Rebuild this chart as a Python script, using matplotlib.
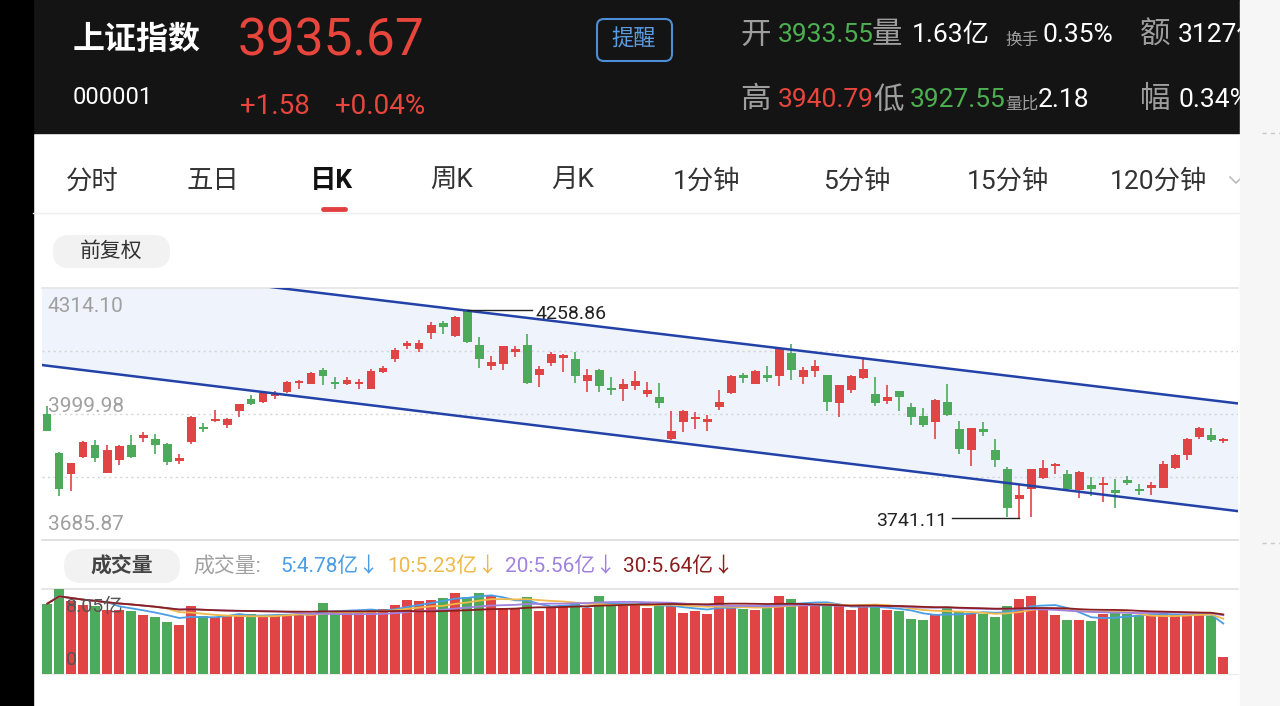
import matplotlib
matplotlib.use('Agg')
import matplotlib.pyplot as plt
from matplotlib.patches import Rectangle, FancyBboxPatch
import numpy as np
import pandas as pd

plt.rcParams['font.family'] = ['Roboto', 'Noto Sans CJK SC', 'DejaVu Sans']
plt.rcParams['axes.unicode_minus'] = False

# 日K 数据 (上证指数, 99 根)
opens = [4000.8, 3902.8, 3851.2, 3892.8, 3921.9, 3852.9, 3886.1, 3921.9, 3940.2, 3938.5,
         3924.4, 3882.0, 3930.2, 3968.4, 3982.5, 3971.7, 4007.5, 4038.2, 4029.9, 4044.9,
         4054.8, 4077.3, 4075.6, 4108.8, 4079.8, 4075.6, 4074.0, 4063.1, 4104.7, 4136.3,
         4169.5, 4162.9, 4202.7, 4227.7, 4193.6, 4256.0, 4172.8, 4119.7, 4123.8, 4154.5,
         4172.8, 4096.4, 4128.0, 4140.4, 4137.9, 4081.4, 4108.8, 4064.8, 4063.1, 4069.8,
         4050.7, 4042.4, 3938.5, 3980.0, 3986.7, 3980.0, 4017.4, 4053.2, 4096.4, 4075.6,
         4096.4, 4094.7, 4152.9, 4092.2, 4106.3, 4098.0, 4028.2, 4059.0, 4089.7, 4050.7,
         4032.4, 4056.5, 4017.4, 3995.0, 3980.0, 4029.9, 3963.4, 3911.1, 3961.8, 3909.4,
         3863.7, 3788.9, 3813.8, 3840.4, 3869.5, 3851.2, 3809.7, 3822.2, 3822.2, 3809.7,
         3834.6, 3813.8, 3815.5, 3816.3, 3865.3, 3896.9, 3942.6, 3948.5, 3933.55]
highs = [4019.9, 3905.0, 3878.0, 3932.7, 3936.0, 3921.9, 3921.9, 3948.5, 3955.0, 3951.0,
         3927.7, 3901.0, 3994.0, 3977.6, 4009.0, 3990.0, 4025.8, 4048.2, 4054.8, 4056.5,
         4081.4, 4085.6, 4104.7, 4114.7, 4092.2, 4092.2, 4088.0, 4111.3, 4119.7, 4164.5,
         4181.1, 4183.6, 4229.3, 4231.0, 4244.3, 4258.86, 4192.0, 4144.6, 4168.7, 4168.7,
         4198.6, 4119.7, 4154.5, 4150.4, 4154.5, 4111.3, 4113.0, 4092.2, 4086.4, 4106.3,
         4079.8, 4078.1, 4006.6, 4009.1, 4005.0, 3996.7, 4059.0, 4096.4, 4103.0, 4108.8,
         4119.7, 4164.5, 4175.3, 4117.2, 4133.8, 4098.0, 4073.1, 4098.0, 4137.9, 4092.2,
         4073.1, 4056.5, 4028.2, 4015.0, 4038.2, 4073.9, 3981.7, 3965.1, 3980.0, 3938.5,
         3867.8, 3826.3, 3862.0, 3884.5, 3878.6, 3859.5, 3857.0, 3842.9, 3842.9, 3837.1,
         3845.4, 3826.3, 3830.5, 3882.8, 3901.1, 3940.2, 3967.6, 3965.1, 3940.79]
lows = [3957.0, 3795.6, 3808.0, 3891.0, 3880.3, 3852.9, 3872.0, 3891.0, 3930.0, 3901.0,
        3872.0, 3876.0, 3926.0, 3955.0, 3980.0, 3965.0, 3992.5, 4021.6, 4028.2, 4038.2,
        4053.2, 4061.5, 4074.0, 4071.5, 4061.5, 4071.5, 4063.0, 4061.5, 4102.2, 4129.6,
        4162.9, 4154.5, 4187.8, 4200.3, 4192.0, 4178.0, 4114.7, 4108.8, 4108.8, 4142.0,
        4074.0, 4067.3, 4119.7, 4104.7, 4078.1, 4054.8, 4054.8, 4046.5, 4031.6, 4059.0,
        4042.4, 4015.0, 3934.3, 3955.0, 3963.4, 3957.6, 4009.1, 4050.7, 4078.1, 4074.0,
        4079.8, 4069.8, 4085.6, 4075.6, 4092.2, 4006.6, 3992.5, 4053.2, 4088.0, 4020.0,
        4025.7, 4006.6, 3971.7, 3967.6, 3938.5, 3995.0, 3901.0, 3869.5, 3944.3, 3867.8,
        3744.0, 3741.11, 3742.0, 3838.8, 3851.2, 3812.2, 3791.4, 3795.6, 3780.6, 3765.6,
        3822.2, 3797.2, 3798.9, 3816.3, 3863.7, 3886.1, 3938.5, 3930.2, 3927.55]
closes = [3957.6, 3813.8, 3877.8, 3930.2, 3890.3, 3911.1, 3920.2, 3892.8, 3948.5, 3921.9,
          3880.3, 3891.0, 3992.5, 3963.4, 3988.3, 3986.7, 4024.1, 4025.8, 4053.2, 4050.7,
          4079.8, 4082.3, 4103.0, 4094.7, 4075.6, 4083.9, 4079.8, 4106.3, 4114.7, 4158.7,
          4177.8, 4177.8, 4222.7, 4216.9, 4241.8, 4179.5, 4136.3, 4129.6, 4168.7, 4162.9,
          4077.3, 4111.3, 4150.4, 4146.2, 4094.7, 4098.0, 4069.8, 4059.0, 4074.0, 4081.4,
          4059.0, 4028.2, 3956.8, 4006.6, 3992.5, 3986.7, 4029.9, 4094.7, 4089.7, 4106.3,
          4089.7, 4161.2, 4108.8, 4108.8, 4119.7, 4029.9, 4073.1, 4094.7, 4111.3, 4028.2,
          4042.4, 4042.4, 3992.5, 3971.7, 4035.7, 3996.7, 3913.6, 3965.1, 3955.1, 3884.5,
          3765.6, 3797.2, 3862.0, 3865.3, 3874.5, 3813.8, 3855.4, 3813.8, 3828.8, 3803.9,
          3828.8, 3807.2, 3823.8, 3876.1, 3898.6, 3938.5, 3965.1, 3934.09, 3935.67]
# 成交量 (亿)
volumes = [6.66, 8.05, 6.88, 6.57, 6.47, 6.09, 6.03, 5.94, 5.62, 5.40,
           4.89, 4.67, 6.47, 5.46, 5.40, 5.46, 5.62, 5.71, 5.52, 5.62,
           5.62, 5.71, 5.78, 6.72, 5.84, 5.94, 5.94, 6.09, 6.16, 6.57,
           6.98, 6.88, 6.98, 7.20, 7.67, 7.29, 7.67, 7.42, 6.25, 6.25,
           7.29, 5.94, 6.25, 6.57, 6.66, 6.25, 7.36, 6.57, 6.47, 6.57,
           6.25, 6.57, 6.47, 5.78, 6.00, 5.71, 7.42, 6.41, 6.16, 6.09,
           6.41, 7.42, 7.10, 6.47, 6.47, 6.47, 6.47, 6.03, 6.47, 6.41,
           6.03, 5.94, 5.25, 5.09, 5.67, 6.25, 5.94, 5.71, 5.71, 5.40,
           6.47, 7.10, 7.36, 6.09, 5.62, 5.08, 5.08, 4.99, 5.71, 5.80,
           5.65, 5.50, 5.70, 5.75, 5.60, 5.62, 5.58, 5.47, 1.63]
ma_windows = [5, 10, 20, 30]
ma_colors = ['#4a9ee6', '#efb84a', '#a081e0', '#8b1e1e']
ma_labels = ['5:4.78亿↓', '10:5.23亿↓', '20:5.56亿↓', '30:5.64亿↓']

# 通道线 (K线序号, 点位)
channel_x = [-0.5, 99.2]
channel_upper = [4385.5, 4026.4]
channel_lower = [4122.2, 3757.9]

price_top, price_bottom = 4314.10, 3685.87
price_mid = 3999.98
vol_max = 8.05
high_idx, low_idx = 35, 81

RED = '#e04444'
GREEN = '#4caa5a'
W, H = 1280, 706


def px_rect(x0, y0, x1, y1):
    return [x0 / W, 1 - y1 / H, (x1 - x0) / W, (y1 - y0) / H]


fig = plt.figure(figsize=(W / 100, H / 100), dpi=100)
fig.patch.set_facecolor('white')

# 背景 / 界面
bg = fig.add_axes([0, 0, 1, 1])
bg.set_xlim(0, W)
bg.set_ylim(H, 0)
bg.axis('off')
bg.add_patch(Rectangle((0, 0), 1240, 133, color='#141414', zorder=1))
bg.add_patch(Rectangle((0, 0), 33, H, color='#000000', zorder=1))
bg.add_patch(Rectangle((1240, 0), 40, H, color='#f6f6f6', zorder=10))
bg.plot([1262, 1280], [133, 133], color='#c8c8c8', lw=1, ls=(0, (3, 3)), zorder=11)
bg.plot([1262, 1280], [543, 543], color='#c8c8c8', lw=1, ls=(0, (3, 3)), zorder=11)

bg.text(73, 40, '上证指数', color='white', fontsize=23, fontweight='bold', va='center')
bg.text(238, 42, '3935.67', color='#e8453c', fontsize=37, va='center')
bg.text(73, 98, '000001', color='white', fontsize=17, va='center')
bg.text(240, 106, '+1.58', color='#e8453c', fontsize=20, va='center')
bg.text(335, 106, '+0.04%', color='#e8453c', fontsize=20, va='center')
bg.add_patch(FancyBboxPatch((597, 19), 75, 42, boxstyle='round,pad=0,rounding_size=7',
                            fc='none', ec='#4d8fd6', lw=1.5, zorder=2))
bg.text(634, 40, '提醒', color='#5c9de2', fontsize=16, ha='center', va='center')

stats = [
    (740, 35, '开', '#9e9e9e', 22), (778, 35, '3933.55', '#4caf50', 19),
    (872, 35, '量', '#9e9e9e', 22), (912, 35, '1.63亿', 'white', 19),
    (1005, 40, '换手', '#9e9e9e', 12), (1043, 35, '0.35%', 'white', 19),
    (1140, 35, '额', '#9e9e9e', 22), (1178, 35, '3127亿', 'white', 19),
    (740, 100, '高', '#9e9e9e', 22), (778, 100, '3940.79', '#e8453c', 19),
    (873, 100, '低', '#9e9e9e', 22), (910, 100, '3927.55', '#4caf50', 19),
    (1005, 104, '量比', '#9e9e9e', 12), (1038, 100, '2.18', 'white', 19),
    (1140, 100, '幅', '#9e9e9e', 22), (1178, 100, '0.34%', 'white', 19),
]
for x, y, s, c, fs in stats:
    bg.text(x, y, s, color=c, fontsize=fs, va='center')

tabs = [(66, '分时'), (186, '五日'), (310, '日K'), (430, '周K'), (551, '月K'),
        (673, '1分钟'), (823, '5分钟'), (967, '15分钟'), (1110, '120分钟')]
for x, s in tabs:
    if s == '日K':
        bg.text(x, 181, s, color='#111111', fontsize=19, fontweight='bold', va='center')
    else:
        bg.text(x, 181, s, color='#333333', fontsize=19, va='center')
bg.plot([323, 345], [209, 209], color='#e04040', lw=3.5, solid_capstyle='round')
bg.plot([1230, 1236, 1242], [177, 183, 177], color='#bbbbbb', lw=1.2)
bg.plot([33, 1240], [213, 213], color='#eeeeee', lw=1)

bg.add_patch(FancyBboxPatch((53, 235), 117, 33, boxstyle='round,pad=0,rounding_size=16',
                            fc='#f2f2f2', ec='none'))
bg.text(111, 251, '前复权', color='#333333', fontsize=15, ha='center', va='center')

bg.add_patch(FancyBboxPatch((64, 549), 116, 34, boxstyle='round,pad=0,rounding_size=17',
                            fc='#f2f2f2', ec='none'))
bg.text(122, 566, '成交量', color='#444444', fontsize=15, fontweight='bold',
        ha='center', va='center')
bg.text(193, 566, '成交量:', color='#a0a0a0', fontsize=15, va='center')
for x, s, c in zip([280, 387, 505, 623], ma_labels, ma_colors):
    bg.text(x, 566, s, color=c, fontsize=15, va='center')

# K 线
idx = np.arange(len(opens))
o = np.array(opens)
c = np.array(closes)
hi = np.array(highs)
lo = np.array(lows)
up = c >= o
colors = np.where(up, RED, GREEN)
xlim = ((42 - 47.3) / 12, (1238 - 47.3) / 12)

ax = fig.add_axes(px_rect(42, 288, 1238, 540))
ax.patch.set_visible(False)
ax.set_xlim(*xlim)
ax.set_ylim(price_bottom, price_top)
ax.axis('off')

ax.fill_between(channel_x, channel_lower, channel_upper, color='#eef3fc', lw=0, zorder=0)
for yv in [(price_top + price_mid) / 2, price_mid, (price_bottom + price_mid) / 2]:
    ax.axhline(yv, color='#d4d4d4', lw=1, ls=(0, (1.5, 2.5)), zorder=1)
ax.axhline(price_top, color='#e4e4e4', lw=1.2, clip_on=False, zorder=1)
ax.axhline(price_bottom, color='#dcdcdc', lw=1.2, clip_on=False, zorder=1)

ax.vlines(idx, lo, hi, colors=colors, lw=1.2, zorder=3)
body_h = np.maximum(np.abs(c - o), 4)
ax.bar(idx, body_h, bottom=np.minimum(o, c), width=0.7, color=colors, zorder=4)
ax.plot(channel_x, channel_upper, color='#2342a8', lw=1.8, zorder=5)
ax.plot(channel_x, channel_lower, color='#2342a8', lw=1.8, zorder=5)

ytr = ax.get_yaxis_transform()
for val, off in [(price_top, -18), (price_mid, 8), (price_bottom, 15)]:
    ax.annotate(f'{val:.2f}', xy=(0.005, val), xycoords=ytr, xytext=(0, off),
                textcoords='offset pixels', color='#a0a0a0', fontsize=15,
                va='center', zorder=6)

hx = (531.7 - 47.3) / 12
ax.plot([high_idx, hx], [highs[high_idx]] * 2, color='#222222', lw=1, zorder=6)
ax.text(hx + 0.35, highs[high_idx] - 9, f'{highs[high_idx]:.2f}', color='#222222',
        fontsize=14, va='center', zorder=6)
lx = (951.7 - 47.3) / 12
ax.plot([lx, low_idx], [lows[low_idx]] * 2, color='#222222', lw=1, zorder=6)
ax.text(lx - 0.35, lows[low_idx] - 8, f'{lows[low_idx]:.2f}', color='#222222',
        fontsize=14, va='center', ha='right', zorder=6)

# 成交量
axv = fig.add_axes(px_rect(42, 589, 1238, 674))
axv.patch.set_visible(False)
axv.set_xlim(*xlim)
axv.set_ylim(0, vol_max)
axv.axis('off')
axv.axhline(vol_max, color='#e2e2e2', lw=1.2, clip_on=False, zorder=0)
axv.axhline(0, color='#ececec', lw=1, clip_on=False, zorder=0)
axv.bar(idx, volumes, width=0.84, color=colors, zorder=2)
vs = pd.Series(volumes)
for win, col in zip(ma_windows, ma_colors):
    axv.plot(idx, vs.rolling(win, min_periods=1).mean(), color=col, lw=1.3, zorder=3)
vtr = axv.get_yaxis_transform()
axv.annotate(f'{vol_max:.2f}亿', xy=(0.02, vol_max), xycoords=vtr, xytext=(0, -18),
             textcoords='offset pixels', color='#555555', fontsize=14, va='center', zorder=5)
axv.annotate('0', xy=(0.02, 0), xycoords=vtr, xytext=(0, 14),
             textcoords='offset pixels', color='#555555', fontsize=14, va='center', zorder=5)

fig.savefig('out.png', dpi=100)
